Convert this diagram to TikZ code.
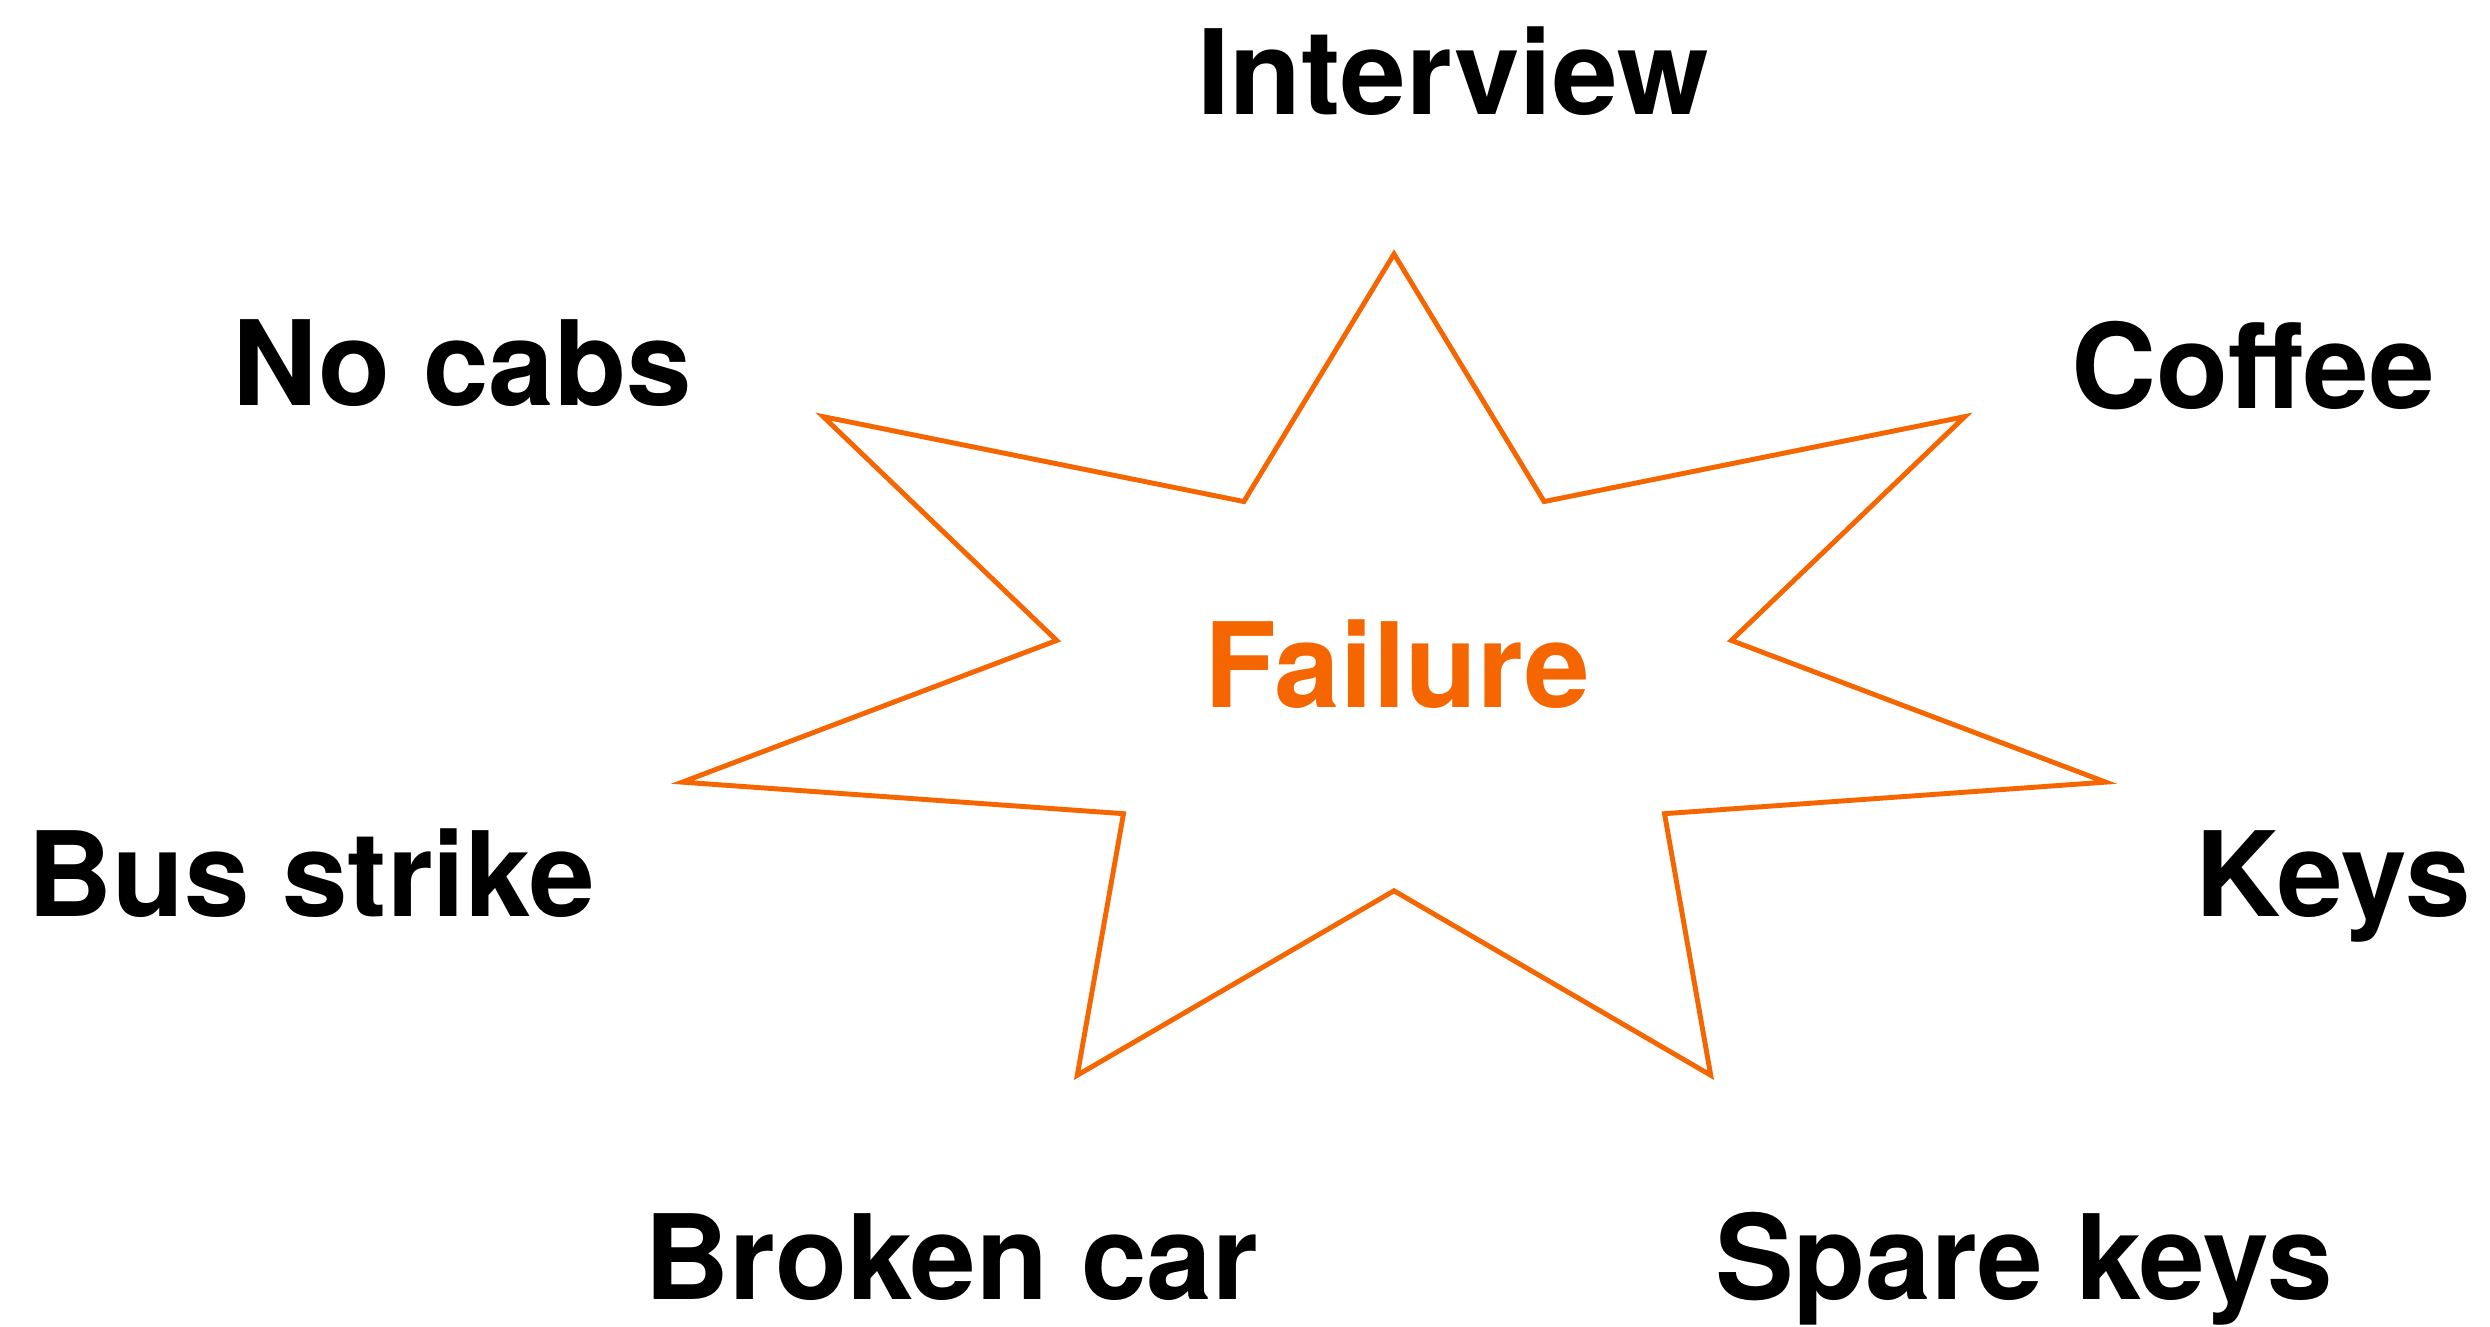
\documentclass[tikz,border=0pt]{standalone}
\usepackage{fontspec}
\setmainfont{TeX Gyre Heros}
\definecolor{orangeechec}{HTML}{F56600}
\tikzset{
	cause/.style={font=\fontsize{33.5}{40}\selectfont\bfseries,anchor=base,inner sep=0pt},
	etoile/.style={draw=orangeechec,line width=1.4pt,line join=miter}
}
\begin{document}
\begin{tikzpicture}[x=0.01cm,y=-0.01cm]% une unité = un pixel, axe des y vers le bas
	\useasboundingbox (0,0) rectangle (2490,1326);
	% l'étoile à 7 branches, aplatie
	\draw[etoile] (1394,254)
		\foreach \i [evaluate=\i as \rad using {mod(\i,2)==0 ? 1 : 0.474}] in {1,...,13}{
		-- ({1394+730*\rad*cos(90-\i*360/14)},{686-432*\rad*sin(90-\i*360/14)})}
		-- cycle;
	\node[cause,text=orangeechec] (echec) at (1397,707) {Failure};
	
	\node[cause] (interview) at (1453,114)  {Interview};
	\node[cause] (nocabs)    at (462,405)   {No cabs};
	\node[cause] (coffee)    at (2253,408)  {Coffee};
	\node[cause] (bus)       at (311,916)   {Bus strike};
	\node[cause] (keys)      at (2333,916)  {Keys};
	\node[cause] (car)       at (951,1299)  {Broken car};
	\node[cause] (spare)     at (2024,1299) {Spare keys};
\end{tikzpicture}
\end{document}
